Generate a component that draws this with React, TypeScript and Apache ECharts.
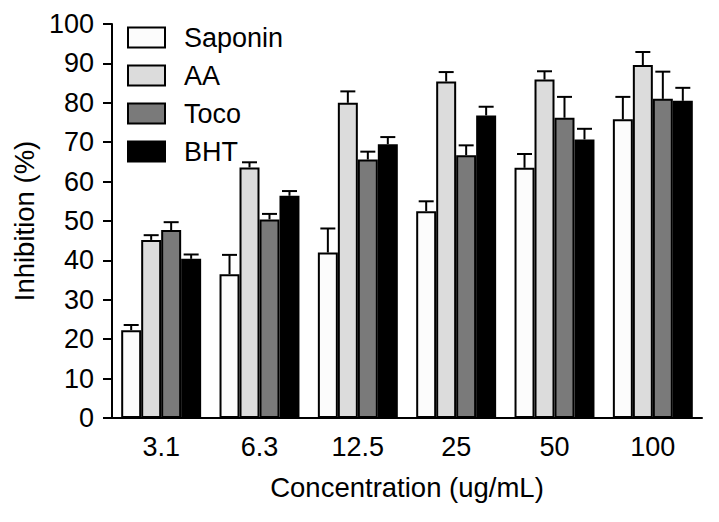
import React, { useEffect, useRef } from "react";
import * as echarts from "echarts";

const categories = ["3.1", "6.3", "12.5", "25", "50", "100"];
const seriesNames = ["Saponin", "AA", "Toco", "BHT"];
const saponin = [22.3, 36.5, 42.0, 52.5, 63.5, 75.8];
const saponinErr = [1.3, 4.9, 6.1, 2.5, 3.5, 5.7];
const aa = [45.2, 63.6, 80.0, 85.4, 85.9, 89.6];
const aaErr = [1.2, 1.3, 2.9, 2.4, 2.1, 3.3];
const toco = [47.7, 50.4, 65.6, 66.7, 76.2, 81.0];
const tocoErr = [2.0, 1.4, 2.0, 2.5, 5.3, 6.9];
const bht = [40.4, 56.4, 69.5, 76.8, 70.7, 80.5];
const bhtErr = [1.1, 1.2, 1.8, 2.2, 2.7, 3.3];

const FONT = "'Liberation Sans', Arial, Helvetica, sans-serif";
const colors = ["#fcfcfc", "#dcdcdc", "#7a7a7a", "#000000"];
const CAT_GAP = 0.187;

export default function App() {
  const ref = useRef<HTMLDivElement>(null);
  useEffect(() => {
    if (!ref.current) return;
    const chart = echarts.init(ref.current, undefined, { renderer: "svg" });
    const values = [saponin, aa, toco, bht];
    const errs = [saponinErr, aaErr, tocoErr, bhtErr];
    const barSeries: any[] = seriesNames.map((name, i) => ({
      name,
      type: "bar",
      data: values[i],
      barGap: "0%",
      barCategoryGap: (CAT_GAP * 100).toFixed(1) + "%",
      itemStyle: { color: colors[i], borderColor: "#000", borderWidth: 2 },
      z: 2,
    }));
    const errSeries: any[] = seriesNames.map((name, i) => ({
      name: name + "_err",
      type: "custom",
      z: 3,
      data: values[i].map((v, k) => [k, v, v + errs[i][k]]),
      encode: { x: 0, y: [1, 2] },
      renderItem: (params: any, api: any) => {
        const idx = api.value(0);
        const low = api.coord([idx, api.value(1)]);
        const high = api.coord([idx, api.value(2)]);
        const band = api.size([1, 0])[0];
        const group = band * (1 - CAT_GAP);
        const bw = group / 4;
        const cx = low[0] - group / 2 + bw * (i + 0.5);
        const half = 7.5;
        const style = { stroke: "#000", lineWidth: 2, fill: "none" };
        return {
          type: "group",
          children: [
            { type: "line", shape: { x1: cx, y1: low[1], x2: cx, y2: high[1] }, style },
            { type: "line", shape: { x1: cx - half, y1: high[1], x2: cx + half, y2: high[1] }, style },
          ],
        };
      },
    }));
    chart.setOption({
      animation: false,
      backgroundColor: "#fff",
      textStyle: { fontFamily: FONT },
      grid: { left: 112, right: 17, top: 24, bottom: 104, containLabel: false },
      legend: {
        data: seriesNames,
        orient: "vertical",
        left: 127,
        top: 24,
        padding: 0,
        itemWidth: 37,
        itemHeight: 20,
        itemGap: 11,
        icon: "rect",
        textStyle: { fontSize: 27, color: "#000", fontFamily: FONT, padding: [0, 0, 0, 14] },
      },
      xAxis: {
        type: "category",
        data: categories,
        name: "Concentration (ug/mL)",
        nameLocation: "middle",
        nameGap: 55,
        nameTextStyle: { fontSize: 27.5, color: "#000", fontFamily: FONT },
        axisLine: { lineStyle: { color: "#000", width: 2 } },
        axisTick: { length: 9, lineStyle: { color: "#000", width: 2 } },
        axisLabel: { fontSize: 27, color: "#000", margin: 15, fontFamily: FONT },
      },
      yAxis: {
        type: "value",
        min: 0,
        max: 100,
        interval: 10,
        name: "Inhibition (%)",
        nameLocation: "middle",
        nameGap: 74,
        nameTextStyle: { fontSize: 27.5, color: "#000", fontFamily: FONT },
        axisLine: { show: true, lineStyle: { color: "#000", width: 2 } },
        axisTick: { show: true, length: 9, lineStyle: { color: "#000", width: 2 } },
        axisLabel: { fontSize: 27, color: "#000", margin: 18, fontFamily: FONT },
        splitLine: { show: false },
      },
      series: [...barSeries, ...errSeries],
    });
    return () => chart.dispose();
  }, []);
  return (
    <div
      ref={ref}
      style={{ position: "fixed", left: 0, top: 0, width: 719, height: 522 }}
    />
  );
}
